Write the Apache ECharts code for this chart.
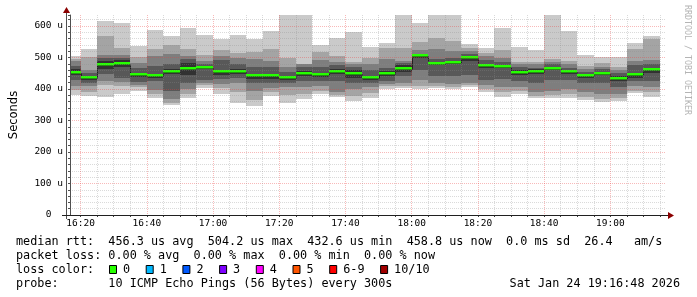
<!DOCTYPE html>
<html>
<head>
<meta charset="utf-8">
<script src="https://cdn.jsdelivr.net/npm/echarts@6/dist/echarts.min.js"></script>
<style>html,body{margin:0;padding:0;background:#fff}#c{width:697px;height:297px}</style>
</head>
<body>
<div id="c"></div>
<script>
// ---- data (RTT in microseconds), one column per 5-minute slot (slot end time) ----
const viewStart = '16:16:48';
const viewEnd = '19:16:48';
const slotEnd = ['16:20','16:25','16:30','16:35','16:40','16:45','16:50','16:55','17:00','17:05','17:10','17:15',
  '17:20','17:25','17:30','17:35','17:40','17:45','17:50','17:55','18:00','18:05','18:10','18:15',
  '18:20','18:25','18:30','18:35','18:40','18:45','18:50','18:55','19:00','19:05','19:10','19:15'];
// sorted ping RTTs per slot (10 pings): rtt1 = fastest ... rtt10 = slowest
const rtt1  = [381,379,376,385,395,373,349,373,404,384,357,346,378,355,367,383,374,363,372,399,403,399,404,400,406,391,376,383,370,370,373,366,360,362,386,376];
const rtt2  = [397,392,413,410,405,385,355,385,413,402,391,365,392,380,385,395,380,378,388,410,410,410,410,405,412,400,390,395,378,380,385,375,368,372,395,390];
const rtt3  = [410,410,427,421,414,397,368,400,418,415,418,395,402,405,407,410,392,400,405,416,420,430,418,415,420,412,405,405,392,395,400,390,385,385,410,405];
const rtt4  = [428,420,448,435,422,425,395,420,430,432,435,418,420,420,425,425,425,420,420,425,440,460,440,440,445,430,432,425,420,430,430,420,420,405,425,425];
const rtt5  = [443,430,463,470,437,436,447,445,462,445,447,433,432,428,440,437,447,436,428,440,455,500,476,478,490,466,466,445,448,460,448,436,443,425,436,450];
const rtt6  = [462,442,490,492,451,448,463,484,474,461,463,449,448,440,458,451,463,460,440,456,475,508,486,490,504,480,476,459,462,470,460,446,455,440,450,468];
const rtt7  = [473,452,500,497,466,473,480,495,480,492,480,470,471,455,471,470,475,470,460,468,484,512,495,500,512,492,485,470,468,478,468,455,462,450,476,480];
const rtt8  = [488,460,508,508,484,505,511,505,490,505,497,494,490,471,478,492,487,480,480,494,489,525,526,520,520,506,500,480,480,485,478,462,470,460,489,492];
const rtt9  = [495,503,568,530,503,526,540,526,508,524,513,517,526,497,481,519,505,487,500,530,531,550,561,553,531,515,524,487,487,494,490,473,484,471,526,558];
const rtt10 = [505,527,616,610,537,587,568,593,571,560,571,560,584,635,635,540,563,580,534,545,635,610,635,635,542,531,595,534,524,635,584,508,503,501,545,568];
const medianRtt = [452,436,477,481,444,442,455,465,468,453,455,441,440,434,449,444,455,448,434,448,465,504,481,484,497,473,471,452,455,465,454,441,449,433,443,459];
const xTickLabels = ['16:20','16:40','17:00','17:20','17:40','18:00','18:20','18:40','19:00'];
const yMax = 635;
const smokeGrays = ['#cacaca','#a4a4a4','#7e7e7e','#585858','#323232'];
const lossColors = ['#26ff00','#00b8ff','#0059ff','#7e00ff','#ff00ff','#ff5500','#ff0000','#a10000'];
const lossLabels = ['0','1','2','3','4','5','6-9','10/10'];
const legendRows = [
  'median rtt:  456.3 us avg  504.2 us max  432.6 us min  458.8 us now  0.0 ms sd  26.4   am/s',
  'packet loss: 0.00 % avg  0.00 % max  0.00 % min  0.00 % now',
  'loss color:',
  'probe:       10 ICMP Echo Pings (56 Bytes) every 300s'
];
const stampText = 'Sat Jan 24 19:16:48 2026';
const watermark = 'RRDTOOL / TOBI OETIKER';

// ---- build ----
const toMin = s => { const p = s.split(':').map(Number); return p[0] * 60 + p[1] + (p[2] || 0) / 60; };
const fmt = m => { const h = Math.floor(m / 60); const mm = Math.round(m - h * 60); return h + ':' + String(mm).padStart(2, '0'); };
const xMin = toMin(viewStart), xMax = toMin(viewEnd);
const ranks = [rtt1, rtt2, rtt3, rtt4, rtt5, rtt6, rtt7, rtt8, rtt9, rtt10];
const smokeData = slotEnd.map((t, i) => {
  const e = toMin(t);
  return [Math.max(e - 5, xMin), e].concat(ranks.map(r => r[i])).concat([medianRtt[i], i ? medianRtt[i - 1] : medianRtt[i]]);
});

const MONO = '"DejaVu Sans Mono", monospace';
const gridGray = 'rgba(140,140,140,0.32)';
const gridRed = 'rgba(235,60,60,0.36)';

function renderSmoke(params, api) {
  const xa = Math.round(api.coord([api.value(0), 0])[0]);
  const xb = Math.round(api.coord([api.value(1), 0])[0]);
  const Y = v => Math.round(api.coord([api.value(0), v])[1]);
  const ch = [];
  for (let k = 0; k < 5; k++) {
    const top = Y(api.value(11 - k));
    const bot = Y(api.value(2 + k));
    ch.push({ type: 'rect', shape: { x: xa, y: top, width: xb - xa, height: Math.max(bot - top, 0) }, style: { fill: smokeGrays[k] } });
  }
  const r = Y(api.value(12));
  const rp = Y(api.value(13));
  ch.push({ type: 'line', shape: { x1: xa + 0.5, y1: rp + 0.5, x2: xa + 0.5, y2: r + 0.5 }, style: { stroke: '#202020', lineWidth: 1 } });
  ch.push({ type: 'line', shape: { x1: xa, y1: r + 0.5, x2: xb, y2: r + 0.5 }, style: { stroke: '#202020', lineWidth: 1 } });
  ch.push({ type: 'rect', shape: { x: xa, y: r - 2, width: xb - xa, height: 2.5 }, style: { fill: lossColors[0] } });
  return { type: 'group', children: ch };
}

// legend graphics
const graphics = [];
const rowY = [241.5, 255.5, 269.5, 283.5];
legendRows.forEach((t, i) => {
  graphics.push({ type: 'text', x: 16, y: rowY[i], silent: true,
    style: { text: t, font: '11.8px ' + MONO, fill: '#000', align: 'left', verticalAlign: 'middle' } });
});
let bx = 109;
lossLabels.forEach((lab, i) => {
  graphics.push({ type: 'rect', silent: true, shape: { x: bx + 0.5, y: 265.5, width: 7, height: 8 },
    style: { fill: lossColors[i], stroke: '#000', lineWidth: 1 } });
  graphics.push({ type: 'text', x: bx + 14, y: rowY[2], silent: true,
    style: { text: lab, font: '11.8px ' + MONO, fill: '#000', align: 'left', verticalAlign: 'middle' } });
  bx += 14 + lab.length * 7.1 + 15.6;
});
graphics.push({ type: 'text', x: 680, y: rowY[3], silent: true,
  style: { text: stampText, font: '11.8px ' + MONO, fill: '#000', align: 'right', verticalAlign: 'middle' } });
graphics.push({ type: 'text', x: 687, y: 5, rotation: -Math.PI / 2, silent: true,
  style: { text: watermark, font: '8.3px ' + MONO, fill: '#b4b4b4', align: 'left', verticalAlign: 'middle' } });
// axis extensions + arrows
graphics.push({ type: 'line', silent: true, shape: { x1: 66.5, y1: 219, x2: 66.5, y2: 11 }, style: { stroke: '#505050', lineWidth: 1 }, z: 10 });
graphics.push({ type: 'line', silent: true, shape: { x1: 62, y1: 215.5, x2: 669, y2: 215.5 }, style: { stroke: '#202020', lineWidth: 1 }, z: 10 });
graphics.push({ type: 'polygon', silent: true, shape: { points: [[66.5, 7], [63, 13], [70, 13]] }, style: { fill: '#8b0000' }, z: 10 });
graphics.push({ type: 'polygon', silent: true, shape: { points: [[674, 215.5], [668, 212], [668, 219]] }, style: { fill: '#8b0000' }, z: 10 });

const chart = echarts.init(document.getElementById('c'), null, { renderer: 'canvas' });
chart.setOption({
  animation: false,
  backgroundColor: '#ffffff',
  grid: { left: 66, right: 31, top: 15, bottom: 82, containLabel: false },
  xAxis: {
    type: 'value', min: xMin, max: xMax, z: 5,
    axisLine: { show: true, onZero: false, lineStyle: { color: '#202020', width: 1 } },
    axisTick: { show: true, customValues: slotEnd.map(toMin), length: 2, lineStyle: { color: '#404040' } },
    axisLabel: { customValues: xTickLabels.map(toMin), formatter: v => fmt(v), fontFamily: MONO, fontSize: 9.5, color: '#000', margin: 4 },
    splitLine: { show: true, lineStyle: { color: [gridRed, gridGray, gridGray, gridGray], type: [1, 1], width: 1 } }
  },
  yAxis: {
    type: 'value', min: 0, max: yMax, interval: 20, z: 5,
    name: 'Seconds', nameLocation: 'middle', nameGap: 50, nameRotate: 90,
    nameTextStyle: { fontFamily: '"DejaVu Sans", sans-serif', fontSize: 11.5, color: '#000' },
    axisLine: { show: true, lineStyle: { color: '#505050', width: 1 } },
    axisTick: { show: true, length: 2, lineStyle: { color: '#505050' } },
    axisLabel: { formatter: v => (v % 100 === 0 ? (v === 0 ? '0  ' : v + ' u') : ''), fontFamily: MONO, fontSize: 9.5, color: '#000', margin: 7 },
    splitLine: { show: true, showMaxLine: false, lineStyle: { color: [gridRed, gridGray, gridGray, gridGray, gridGray], type: [1, 1], width: 1 } }
  },
  graphic: graphics,
  series: [{
    type: 'custom', name: 'smoke', silent: true, clip: true,
    renderItem: renderSmoke,
    encode: { x: [0, 1], y: [2, 11] },
    data: smokeData, z: 2
  }]
});
</script>
</body>
</html>
